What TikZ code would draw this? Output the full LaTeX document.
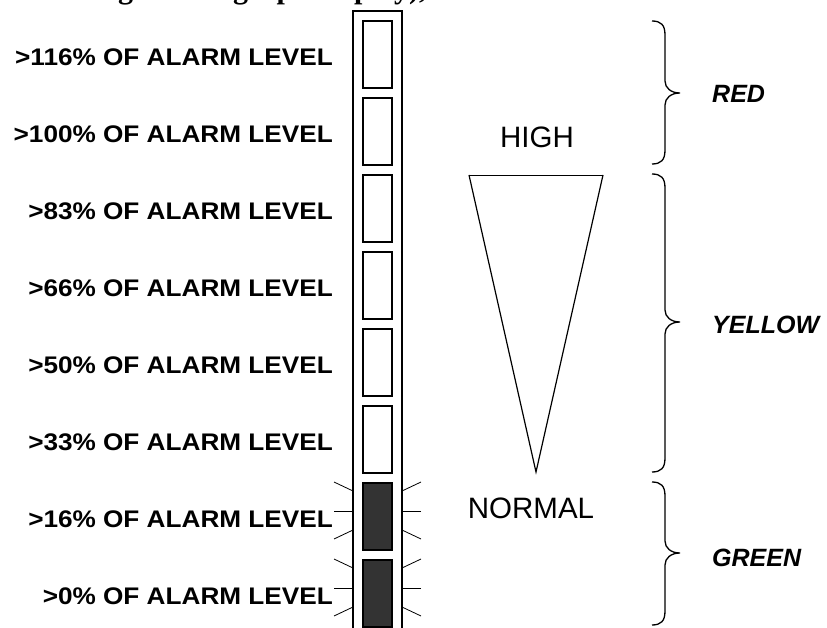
\documentclass[tikz,border=0pt]{standalone}
\usepackage{fontspec}
\setmainfont{Liberation Sans}
\newfontfamily\captionserif{Liberation Serif}
\definecolor{litfill}{HTML}{333333}

% right-hand curly brace: #1 top, #2 tip, #3 bottom (x fixed)
\newcommand\rightbrace[3]{%
  \draw[bracestyle] (652,#1) .. controls (661,#1) and (665,#1+4) .. (665,#1+14)
    -- (665,#2-12) .. controls (665,#2-5) and (671,#2) .. (680,#2)
    .. controls (671,#2) and (665,#2+5) .. (665,#2+12)
    -- (665,#3-14) .. controls (665,#3-4) and (661,#3) .. (652,#3);}

\begin{document}
\begin{tikzpicture}[x=1pt,y=-1pt,
  cell/.style={draw,line width=1.4pt,minimum width=29pt,minimum height=67pt,inner sep=0pt,fill=white},
  litcell/.style={cell,fill=litfill},
  levellabel/.style={anchor=east,inner sep=0pt,xscale=1.09,
    font=\fontsize{24}{24}\selectfont\bfseries},
  zonelabel/.style={anchor=west,inner sep=0pt,
    font=\fontsize{25}{25}\selectfont\bfseries\itshape},
  statelabel/.style={inner sep=0pt,font=\fontsize{29.5}{29.5}\selectfont},
  ray/.style={line width=0.8pt},
  bracestyle/.style={line width=1.3pt}]

\useasboundingbox (0,0) rectangle (827,628);
\clip (0,0) rectangle (827,628);

% caption line running off the top edge
\node[anchor=base west,inner sep=0pt,font=\captionserif\bfseries\fontsize{30}{30}\selectfont]
  (caption) at (118,-1) {g the bargraph display),};

% bargraph housing
\draw[line width=1.3pt] (353,640) -- (353,11) -- (402,11) -- (402,640);

% segments, top to bottom
\foreach \i/\yc in {1/54.5,2/131.5,3/208.5,4/285.5,5/362.5,6/439.5}
  \node[cell] (c\i) at (377.5,\yc) {};
\node[litcell] (c7) at (377.5,516.5) {};
\node[litcell] (c8) at (377.5,593.5) {};

% glow rays around the lit segments
\foreach \t in {482,559}{
  \draw[ray] (334,\t) -- (353,\t+9);
  \draw[ray] (334,\t+29) -- (353,\t+29);
  \draw[ray] (334,\t+57) -- (353,\t+48);
  \draw[ray] (421,\t) -- (402,\t+9);
  \draw[ray] (421,\t+29) -- (402,\t+29);
  \draw[ray] (421,\t+57) -- (402,\t+48);
}

% level labels
\node[levellabel] (l1) at (333,57) {>116\% OF ALARM LEVEL};
\node[levellabel] (l2) at (333,134) {>100\% OF ALARM LEVEL};
\node[levellabel] (l3) at (333,211) {>83\% OF ALARM LEVEL};
\node[levellabel] (l4) at (333,288) {>66\% OF ALARM LEVEL};
\node[levellabel] (l5) at (333,365) {>50\% OF ALARM LEVEL};
\node[levellabel] (l6) at (333,442) {>33\% OF ALARM LEVEL};
\node[levellabel] (l7) at (333,519) {>16\% OF ALARM LEVEL};
\node[levellabel] (l8) at (333,596) {>0\% OF ALARM LEVEL};

% HIGH / NORMAL wedge
\node[statelabel] (high) at (537,137) {HIGH};
\node[statelabel] (normal) at (531,508) {NORMAL};
\draw[line width=0.6pt] (469,175) -- (603,175);
\draw[line width=1.2pt,line join=miter] (469,175) -- (536,472) -- (603,175);

% colour zones
\rightbrace{21}{93}{164}
\rightbrace{174}{322}{472}
\rightbrace{482}{553}{625}
\node[zonelabel] (red) at (712,94) {RED};
\node[zonelabel] (yellow) at (712,325) {YELLOW};
\node[zonelabel] (green) at (712,558) {GREEN};

\end{tikzpicture}
\end{document}
